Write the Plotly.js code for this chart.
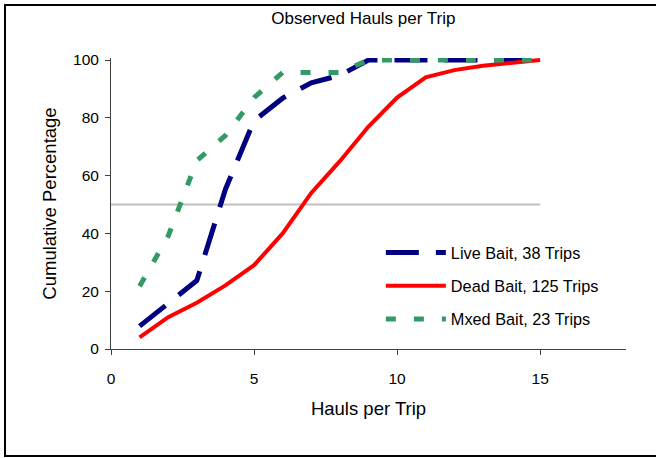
<!DOCTYPE html>
<html>
<head>
<meta charset="utf-8">
<script src="https://cdn.plot.ly/plotly-3.0.1.min.js"></script>
<style>
  html, body { margin: 0; padding: 0; background: #fff; }
  #wrap { position: relative; width: 656px; height: 458px; overflow: hidden; }
  #chart { position: absolute; left: 0; top: 0; width: 656px; height: 458px; }
  #frame { position: absolute; left: 4px; top: 4px; width: 720px; height: 453px;
           box-sizing: border-box; border: 2px solid #000; pointer-events: none; }
</style>
</head>
<body>
<div id="wrap">
  <div id="chart"></div>
  <div id="frame"></div>
</div>
<script>
// Hauls per trip (x categories)
const hauls = [1, 2, 3, 4, 5, 6, 7, 8, 9, 10, 11, 12, 13, 14, 15];

// Cumulative percentage per series
const liveBait = [7.9, 15.8, 23.7, 55.3, 79.0, 86.8, 92.1, 94.7, 100, 100, 100, 100, 100, 100, 100];
const deadBait = [4.0, 11.0, 16.0, 22.0, 29.0, 40.0, 54.0, 65.0, 77.0, 87.0, 94.0, 96.5, 98.0, 99.0, 100];
const mixedBait = [21.7, 39.1, 65.2, 73.9, 87.0, 95.7, 95.7, 95.7, 100, 100, 100, 100, 100, 100, 100];

// 50% reference line
const refX = [0, 15];
const refY = [50, 50];

const names = ["Live Bait, 38 Trips", "Dead Bait, 125 Trips", "Mxed Bait, 23 Trips"];
const xTicks = [0, 5, 10, 15];
const yTicks = [0, 20, 40, 60, 80, 100];

const FONT = '"Liberation Sans", Arial, sans-serif';

const traces = [
  { x: refX, y: refY, mode: 'lines', showlegend: false, hoverinfo: 'skip',
    line: { color: '#c0c0c0', width: 2 } },
  { x: hauls, y: liveBait, name: names[0], mode: 'lines', legendgroup: 'a',
    line: { color: '#000080', width: 5, dash: '33px,17px' } },
  { x: hauls, y: deadBait, name: names[1], mode: 'lines', legendgroup: 'b',
    line: { color: '#ff0000', width: 4 } },
  { x: hauls, y: mixedBait, name: names[2], mode: 'lines', legendgroup: 'c',
    line: { color: '#339966', width: 5, dash: '10px,18px' } }
];

const axisCommon = {
  showgrid: false, zeroline: false, showline: true,
  linecolor: '#404040', linewidth: 1,
  ticks: 'outside', ticklen: 5, tickcolor: '#404040', tickwidth: 1,
  tickfont: { family: FONT, size: 15.5, color: '#000' }
};

const layout = {
  width: 656, height: 458,
  margin: { l: 111, r: 30, t: 58, b: 109 },
  paper_bgcolor: '#fff', plot_bgcolor: '#fff',
  font: { family: FONT, color: '#000' },
  title: { text: 'Observed Hauls per Trip', font: { family: FONT, size: 17, color: '#000' },
           xref: 'paper', x: 0.49, xanchor: 'center', yref: 'container', y: 0.96, yanchor: 'middle' },
  xaxis: Object.assign({}, axisCommon, {
    range: [0, 18], tickvals: xTicks, ticktext: xTicks.map(String),
    ticklabelstandoff: 10,
    title: { text: 'Hauls per Trip', font: { family: FONT, size: 18.5, color: '#000' }, standoff: 16 }
  }),
  yaxis: Object.assign({}, axisCommon, {
    range: [0, 100.7], tickvals: yTicks, ticktext: yTicks.map(String),
    ticklabelstandoff: 3,
    title: { text: 'Cumulative Percentage', font: { family: FONT, size: 18.5, color: '#000' }, standoff: 11 }
  }),
  legend: {
    x: 0.524, y: 0.39, xanchor: 'left', yanchor: 'top',
    bgcolor: 'rgba(0,0,0,0)', borderwidth: 0,
    font: { family: FONT, size: 16.3, color: '#000' },
    itemwidth: 60, tracegroupgap: 9, traceorder: 'grouped'
  },
  showlegend: true
};

Plotly.newPlot('chart', traces, layout, { staticPlot: true, displayModeBar: false });
</script>
</body>
</html>
